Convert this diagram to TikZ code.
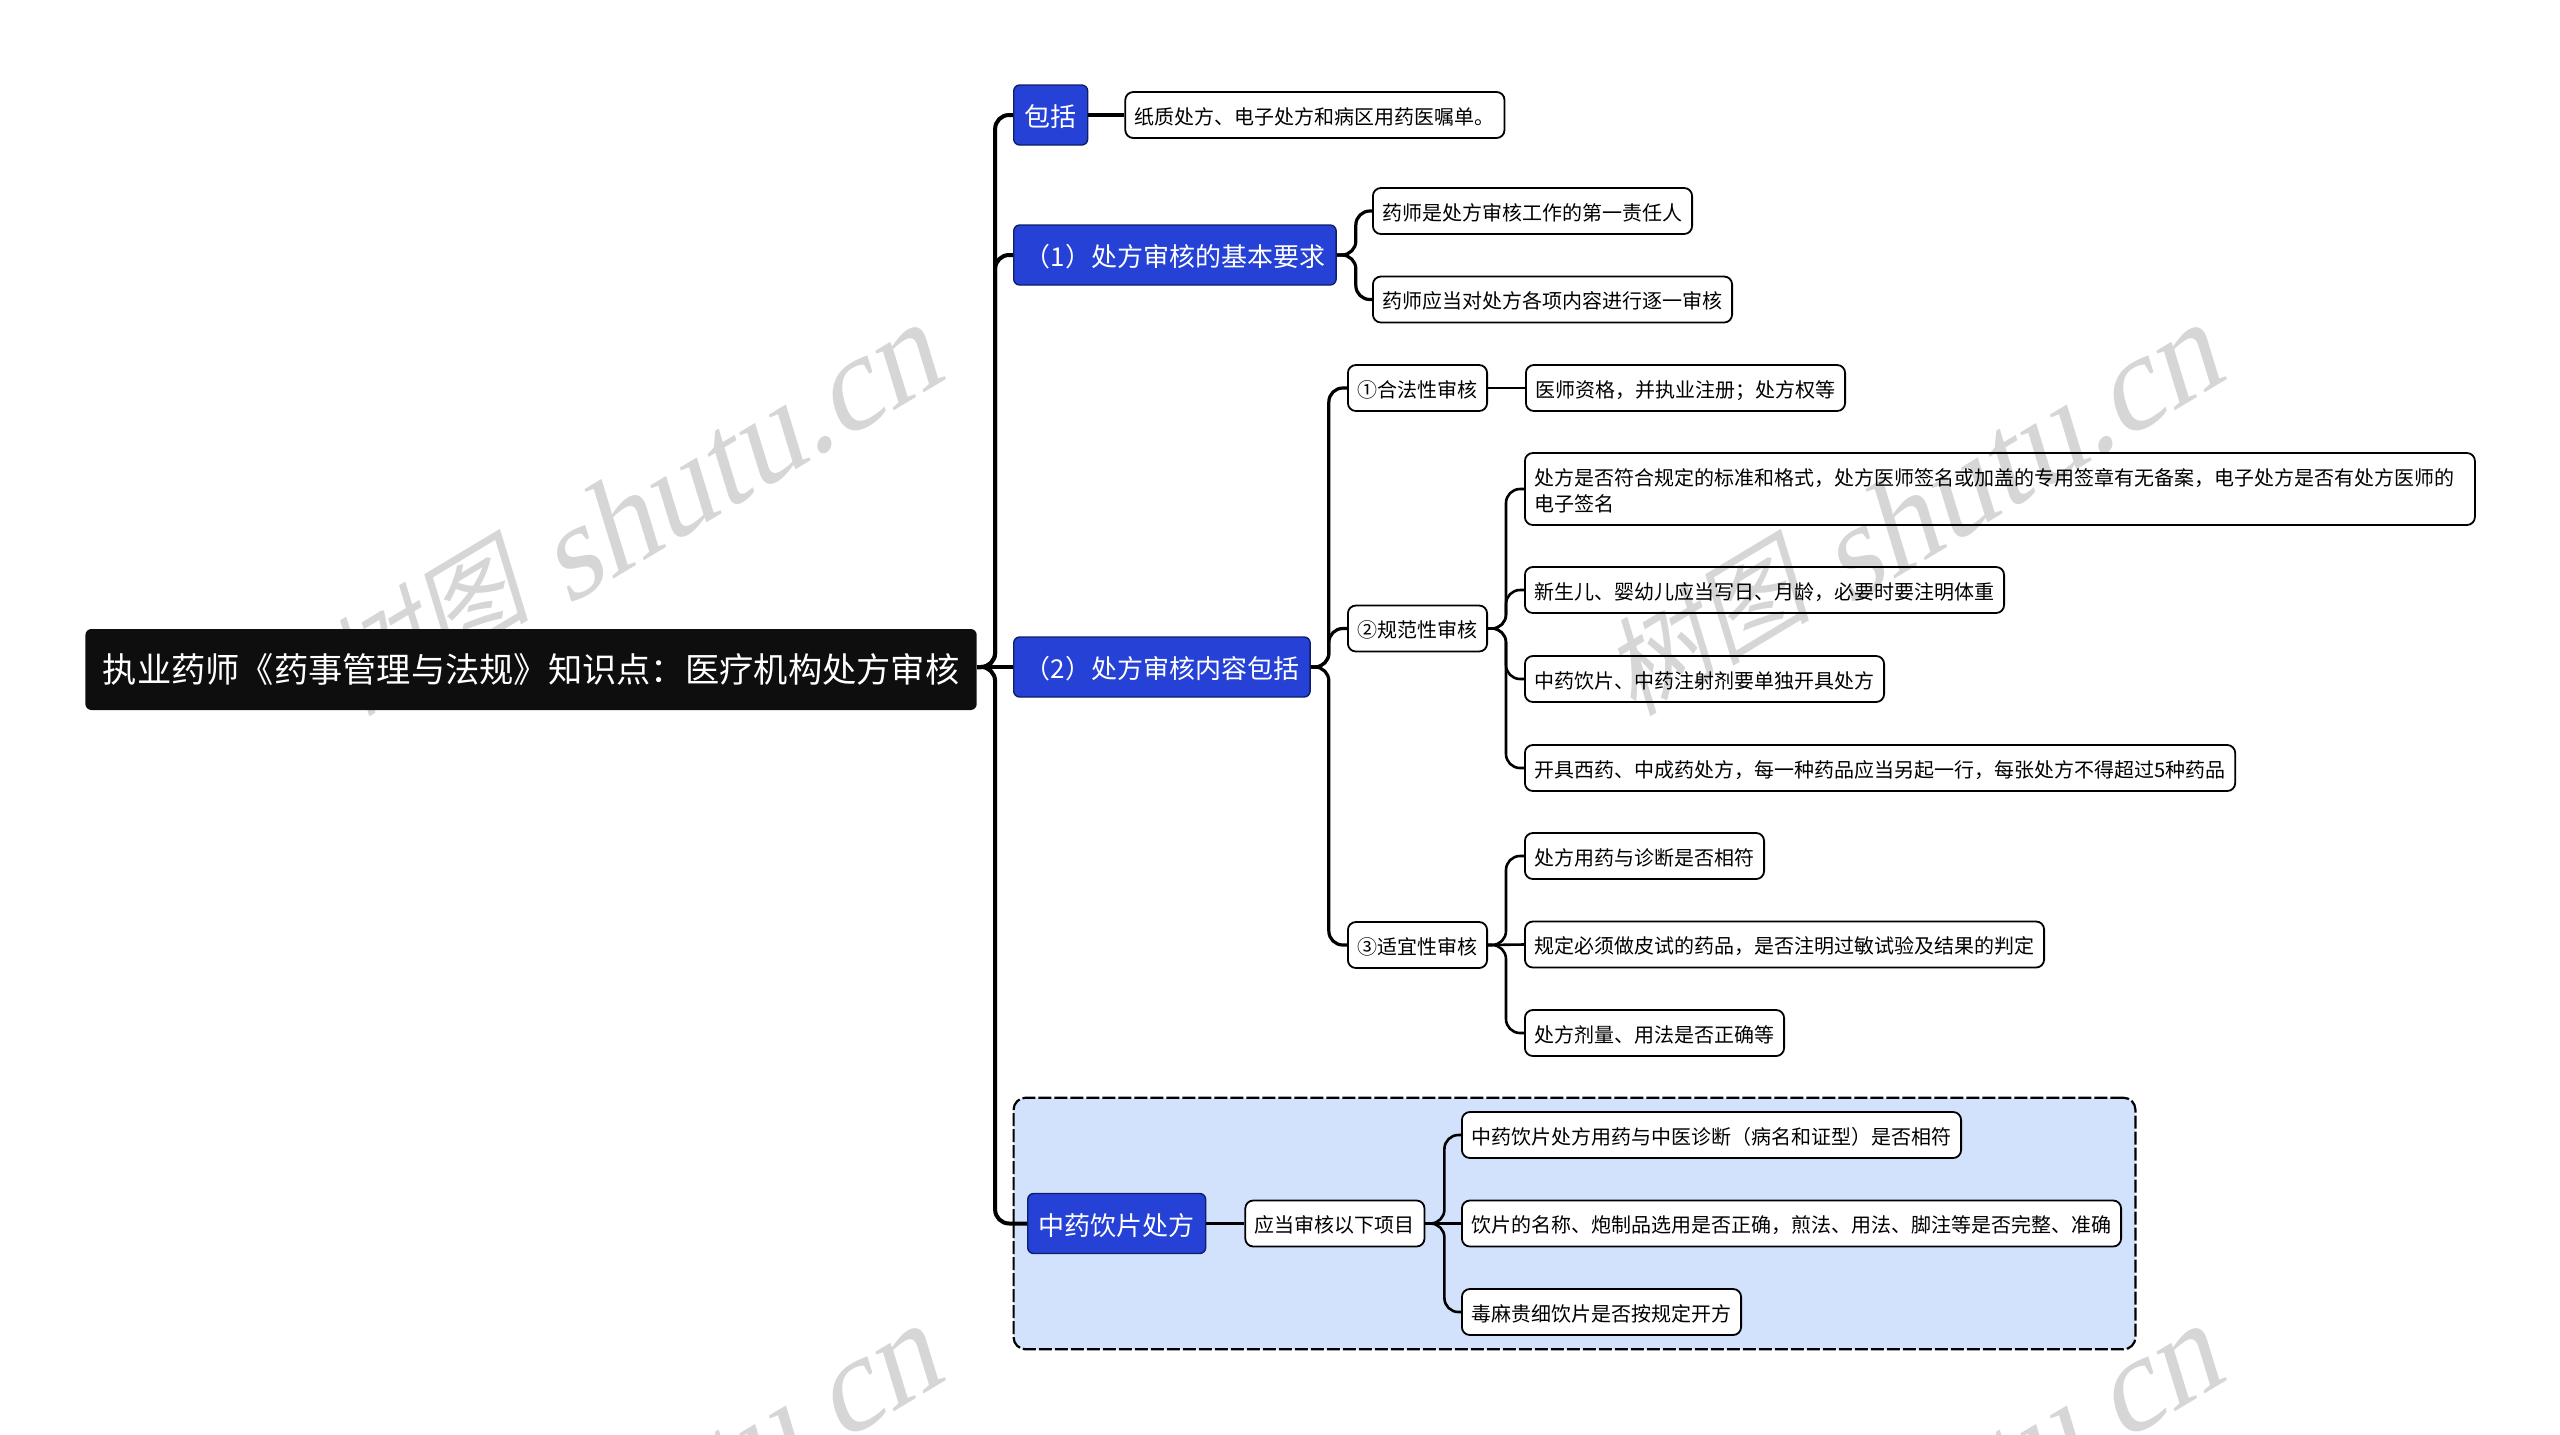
\documentclass[tikz,border=0pt]{standalone}
\usepackage{fontspec}
\setmainfont{Noto Sans CJK SC}
\newfontfamily\wmlatin[FakeSlant=0.25]{Liberation Serif}
\newfontfamily\wmcjk[FakeSlant=0.25]{Noto Sans CJK SC}
\usetikzlibrary{positioning,fit}
\pgfdeclarelayer{background}
\pgfsetlayers{background,main}
\definecolor{topicblue}{HTML}{2541D6}
\definecolor{topicline}{HTML}{0F1F66}
\definecolor{panelblue}{HTML}{D2E2FC}
\definecolor{rootblack}{HTML}{0E0E0E}
\definecolor{wmgray}{HTML}{D6D6D6}
\newcommand{\wmlabel}{\raisebox{8pt}{\fontsize{53}{60}\selectfont\wmcjk 树图} {\wmlatin shutu.cn}}

\begin{document}
\begin{tikzpicture}[x=.5pt, y=-.5pt,
rootnode/.style={rectangle, rounded corners=3pt, fill=rootblack, text=white, font=\fontsize{17.13}{20}\selectfont, inner xsep=8.7pt, inner ysep=0pt, minimum height=40.5pt},
topic/.style={rectangle, rounded corners=3pt, draw=topicline, line width=.7pt, fill=topicblue, text=white, font=\fontsize{13}{16}\selectfont, inner xsep=5.5pt, inner ysep=0pt, text height=12pt, text depth=.5pt, minimum height=30pt},
leaf/.style={rectangle, rounded corners=4pt, draw=black, line width=.9pt, font=\fontsize{10}{13}\selectfont, align=left, inner xsep=4.8pt, inner ysep=0pt, text height=9.5pt, text depth=.3pt, minimum height=23pt},
inleaf/.style={leaf, fill=white},
panel/.style={rectangle, rounded corners=6pt, draw=black, line width=1.1pt, dash pattern=on 6.5pt off 1.5pt, fill=panelblue, inner sep=6.7pt},
trunk/.style={line width=2pt, rounded corners=7pt},
bough/.style={line width=1.6pt, rounded corners=7pt},
twig/.style={line width=1.3pt, rounded corners=7pt},
wmtext/.style={text=wmgray, font=\fontsize{66}{70}\selectfont, rotate=31, anchor=base east, inner sep=0pt}]

\useasboundingbox (0,0) rectangle (2560,1435);

\node(root) [rootnode, anchor=west] at (85,669.5) {执业药师《药事管理与法规》知识点：医疗机构处方审核};

\node(baokuo) [topic, anchor=west] at (1013,115) {包括};
\node(zhizhi) [leaf, right = 18pt of baokuo] {纸质处方、电子处方和病区用药医嘱单。};

\node(jiben) [topic, anchor=west] at (1013,255) {（1）处方审核的基本要求};
\node(zeren) [leaf, anchor=west] at (1372,211) {药师是处方审核工作的第一责任人};
\node(zhuyi) [leaf, anchor=west] at (1372,299.5) {药师应当对处方各项内容进行逐一审核};

\node(neirong) [topic, anchor=west] at (1013,667) {（2）处方审核内容包括};

\node(hefa) [leaf, anchor=west] at (1347,388) {①合法性审核};
\node(zige) [leaf, right = 18.5pt of hefa] {医师资格，并执业注册；处方权等};

\node(guifan) [leaf, anchor=west] at (1347,628.5) {②规范性审核};
\node(geshi) [leaf, anchor=west, text height=, text depth=, text width=465.4pt, minimum height=36pt] at (1524,489) {\rule{0pt}{10.3pt}处方是否符合规定的标准和格式，处方医师签名或加盖的专用签章有无备案，电子处方是否有处方医师的\\电子签名};
\node(xinsheng) [leaf, anchor=west] at (1524,590) {新生儿、婴幼儿应当写日、月龄，必要时要注明体重};
\node(danju) [leaf, anchor=west] at (1524,679) {中药饮片、中药注射剂要单独开具处方};
\node(kaiju) [leaf, anchor=west] at (1524,768) {开具西药、中成药处方，每一种药品应当另起一行，每张处方不得超过5种药品};

\node(shiyi) [leaf, anchor=west] at (1347,945) {③适宜性审核};
\node(xiangfu) [leaf, anchor=west] at (1524,856) {处方用药与诊断是否相符};
\node(pishi) [leaf, anchor=west] at (1524,944.5) {规定必须做皮试的药品，是否注明过敏试验及结果的判定};
\node(jiliang) [leaf, anchor=west] at (1524,1033) {处方剂量、用法是否正确等};

\node(yinpian) [topic, anchor=west] at (1027,1223.5) {中药饮片处方};
\node(yingdang) [inleaf, right = 19pt of yinpian] {应当审核以下项目};
\node(zhengxing) [inleaf, anchor=west] at (1461,1135) {中药饮片处方用药与中医诊断（病名和证型）是否相符};
\node(mingcheng) [inleaf, anchor=west] at (1461,1223.5) {饮片的名称、炮制品选用是否正确，煎法、用法、脚注等是否完整、准确};
\node(duma) [inleaf, anchor=west] at (1461,1312) {毒麻贵细饮片是否按规定开方};

\begin{pgfonlayer}{background}
\begin{scope}
\clip (0,0) rectangle (2560,1435);
\node(wma) [wmtext] at (948,378) {\wmlabel};
\node(wmb) [wmtext] at (2229,378) {\wmlabel};
\node(wmc) [wmtext] at (948,1379) {\wmlabel};
\node(wmd) [wmtext] at (2229,1379) {\wmlabel};
\end{scope}
\node(box) [panel, fit=(yinpian)(zhengxing)(mingcheng)(duma)] {};
\end{pgfonlayer}

\draw[trunk] (root.east |- neirong.west)--(neirong.west);
\draw[trunk] (root.east |- neirong.west)--++(18,0)|-(baokuo.west);
\draw[trunk] (root.east |- neirong.west)--++(18,0)|-(jiben.west);
\draw[trunk] (root.east |- neirong.west)--++(18,0)|-(yinpian.west);

\draw[bough] (baokuo.east)--(zhizhi.west);
\draw[bough] (jiben.east)--++(19,0)|-(zeren.west);
\draw[bough] (jiben.east)--++(19,0)|-(zhuyi.west);
\draw[bough] (neirong.east)--++(18,0)|-(hefa.west);
\draw[bough] (neirong.east)--++(18,0)|-(guifan.west);
\draw[bough] (neirong.east)--++(18,0)|-(shiyi.west);
\draw[bough] (yinpian.east)--(yingdang.west);

\draw[twig] (hefa.east)--(zige.west);
\draw[twig] (guifan.east)--++(18,0)|-(geshi.west);
\draw[twig] (guifan.east)--++(18,0)|-(xinsheng.west);
\draw[twig] (guifan.east)--++(18,0)|-(danju.west);
\draw[twig] (guifan.east)--++(18,0)|-(kaiju.west);
\draw[twig] (shiyi.east)--++(18,0)|-(xiangfu.west);
\draw[twig] (shiyi.east)--(pishi.west);
\draw[twig] (shiyi.east)--++(18,0)|-(jiliang.west);
\draw[twig] (yingdang.east)--++(19,0)|-(zhengxing.west);
\draw[twig] (yingdang.east)--(mingcheng.west);
\draw[twig] (yingdang.east)--++(19,0)|-(duma.west);
\end{tikzpicture}
\end{document}
